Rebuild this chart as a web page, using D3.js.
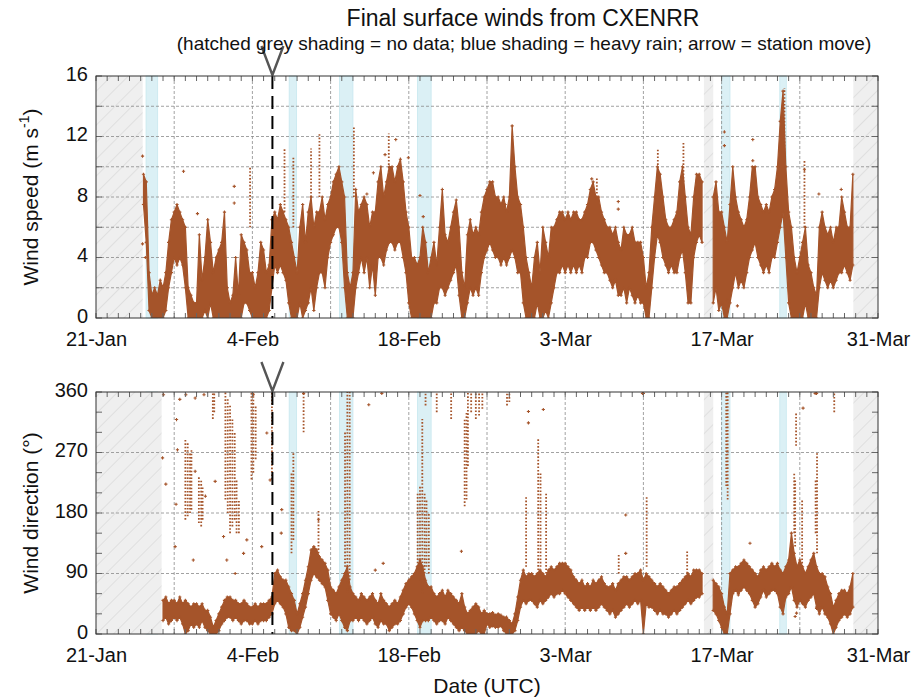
<!DOCTYPE html>
<html>
<head>
<meta charset="utf-8">
<script src="https://cdn.jsdelivr.net/npm/d3@7"></script>
<style>
  body { margin: 0; background: #fff; }
  text { font-family: "Liberation Sans", Arial, Helvetica, sans-serif; fill: #111; }
</style>
</head>
<body>
<svg id="chart" width="911" height="698"></svg>
<script>
// ---------------------------------------------------------------------------
// Station CXENRR surface winds, 6-hourly envelopes (low / high of all samples)
// ---------------------------------------------------------------------------
const speedStart = "2024-01-25T06:00Z";   // first 6-h step of the speed record
const dirStart   = "2024-01-27T00:00Z";   // first 6-h step of the direction record
const stepHours  = 6;

// wind speed (m/s), one value per 6 h; null = no data
const speedLow = [
  7.5,5,0.5,            // Jan 25
  0,0,0,0, 0,0.5,2,3, 4,3.5,4,3.5, 2,0,0,0, 0,0,0,0.5, 0,1,0,0, 0,0,0,0,
  0,0,0,0, 0,1,1,0.5, 0,0,0,0, 0,0,0.5,2, 3.5,3,3.5,3, 2.5,1,0,0, 0,1,0,0.5,
  1,2,0.5,2, 3,3,2,4, 5,5.5,6,6, 5,2,0,0, 0,2,3,4, 3,4,2,3.5, 1.5,4,4,3.5,
  4.5,5,5,4.5, 5,5,4,3, 1,0,0,0, 0,0,0,0, 0,1,1,2, 2,1.5,2,2.5, 3,3.5,1.5,0,
  0,1,2,1.5, 2,1.5,3,4, 4.5,5,4.5,4, 4,3.5,4,3.5, 4,4.5,4,3, 3,1,0,0,
  0,0,1,0, 0,0.5,0,1, 2,3,3,3.5, 3,3.5,3,3.5, 3,3.5,3,4, 4,5,5,4.5,
  4,3.5,3,3, 2.5,2,2.5,1.5, 1.5,2,1,2, 1.5,1,1.5,1, 1,0,0,2, 4,5.5,5,4,
  3.5,3,3.5,3, 3,4,4.5,3, 1,1,4,5, 5.5,5,null,null, null,1,2,0.5, 1,0,0,1,
  2,3,2,2.5, 2,3,4,4.5, 5,4,3.5,3, 3.5,3,4,4, 5,6,7,4, 1,0,0,0, 0,0,1,0,
  0,0,0,2, 3,2.5,2,2.5, 2,2.5,3,3, 3.5,3,2.5,3.5
];
const speedHigh = [
  9.5,9,3,
  1.5,2,1.5,2.5, 2,3,5,6.5, 7,7.5,7,6.5, 6,2,1.5,1, 1,5.5,2.5,4, 6.5,5,3,4, 4.5,5,7,2,
  1,1.5,4,1.5, 5.5,5,4.5,3, 3,2,3,5, 4.5,3,3.5,6.5, 7,6.5,7.5,7, 6.5,6,5,4, 3,6,7.5,5,
  7,8,6,7, 7,8,6.5,7.5, 8,9,9.5,10, 9,8,3,2, 3,8.5,7,7.5, 8,7.5,6,7, 7,9,10,8,
  9,10,10,9, 10,10.5,9,7, 6,4,4,3.5, 4,6,5,3, 4,5,3.5,6, 8.5,5.5,5,6, 7,7.8,6,3,
  2,5.5,6.5,5.5, 6,5.5,7,8, 8.5,9,9,8, 8,7.5,8,7, 8,12.7,10,8, 7.5,6,4,3,
  2,4,5,3, 6,5,4,6, 6,6.5,7,7, 6.5,7,6.5,7, 7,6.5,6.5,7, 7.5,8.5,9,8,
  8,7,6.5,6, 6,5.5,6,5, 4.5,6,5.5,5.5, 6,5,5,5, 4,2,3,6, 8,10,9.5,8,
  6.5,6,6,6.5, 7,9,10,8, 6,5.5,8,9.5, 9.5,9,null,null, null,8,9,7, 7,6,5,7.5,
  10,8,7,6.5, 6,6.5,8,10, 10,8,7.5,7, 7.5,7,8,8.5, 10,13,15,10, 7,6,4,3, 4,5,6,3.5,
  3,2,1.5,6, 7,6,5.5,6, 5,6,6,8, 7,6,6,9.5
];

// wind direction (degrees), one value per 6 h; null = no data
const dirLow = [
  20,25,15,20, 25,20,25,15, 0,5,15,10, 15,10,20,10, 5,0,0,0, 5,15,20,25,
  25,20,25,20, 15,20,20,15, 15,20,15,20, 20,20,25,30, 45,50,45,40, 30,10,5,5,
  0,10,25,40, 60,80,90,85, 80,75,70,50, 30,25,20,30, 20,10,5,20, 20,25,20,25,
  20,15,20,25, 15,10,20,15, 15,5,10,15, 15,20,30,40, 45,40,30,20, 10,20,20,20,
  25,20,15,20, 20,15,25,20, 15,10,5,10, 5,0,0,0, 0,5,0,0, 15,10,12,10,
  10,12,5,0, 0,0,5,20, 40,50,45,50, 50,45,40,50, 45,50,55,60, 55,60,60,65,
  60,55,50,45, 40,35,40,35, 40,35,40,35, 40,45,40,35, 30,35,25,30, 35,40,45,40,
  45,50,45,50, 0,45,40,40, 35,30,35,30, 30,25,30,35, 30,35,40,45, 50,45,50,55,
  55,60,null,null, null,35,30,20, 10,0,0,30, 60,65,60,65, 70,65,60,50, 40,45,55,65,
  55,60,65,65, 60,40,30,55, 60,70,50,40, 50,45,40,50, 55,60,40,30, 40,30,25,15,
  0,10,20,25, 30,25,30,40
];
const dirHigh = [
  50,55,45,50, 50,45,55,45, 50,45,40,45, 45,40,45,35, 35,25,10,20, 30,40,50,55,
  55,50,50,45, 45,50,45,40, 40,45,40,45, 45,45,50,55, 90,95,85,80, 80,70,60,50,
  30,45,60,80, 100,125,130,125, 115,110,105,95, 70,65,60,70, 80,90,100,70, 60,55,50,60,
  55,50,55,60, 50,45,60,50, 45,40,45,50, 45,55,65,75, 80,85,90,100, 110,100,80,70,
  70,60,55,60, 65,55,65,60, 55,50,45,60, 40,30,35,40, 45,40,30,35, 30,30,32,28,
  30,28,25,25, 20,15,30,55, 80,95,85,90, 90,85,90,95, 90,85,95,100, 95,100,105,105,
  105,100,95,85, 80,75,80,70, 75,70,80,75, 80,85,75,70, 70,75,65,75, 80,85,85,80,
  85,90,90,95, 80,90,85,80, 75,70,75,70, 65,60,65,70, 70,75,80,85, 90,85,95,95,
  95,90,null,null, null,80,75,70, 60,40,30,90, 95,100,100,105, 110,105,100,95, 90,85,95,100,
  95,100,105,100, 105,95,90,100, 110,150,120,100, 110,100,90,100, 110,120,100,90, 90,85,70,60,
  40,50,60,65, 65,60,70,90
];

// short bursts of scattered samples: [time, low, high]
const speedBursts = [
  ["2024-02-06T21:00Z",7,11.2], ["2024-02-03T19:00Z",6,10], ["2024-02-07T16:00Z",6,10.6],
  ["2024-02-09T06:00Z",8,11.2], ["2024-02-10T00:00Z",8,12.2], ["2024-02-13T02:00Z",8,12.6],
  ["2024-02-16T05:00Z",9,12.2], ["2024-03-11T07:00Z",9,11.2], ["2024-03-13T14:00Z",9,11.7],
  ["2024-03-22T15:00Z",10,15.2], ["2024-03-24T10:00Z",6,10.4], ["2024-03-05T20:00Z",8,9.3]
];
const dirBursts = [
  ["2024-01-29T00:00Z",170,290], ["2024-01-29T05:00Z",175,285], ["2024-01-29T10:00Z",180,270],
  ["2024-01-29T13:00Z",185,275], ["2024-01-30T05:00Z",165,235], ["2024-01-30T10:00Z",160,230],
  ["2024-01-30T13:00Z",170,220], ["2024-01-31T11:00Z",320,360], ["2024-01-31T14:00Z",330,360],
  ["2024-02-01T14:00Z",200,360], ["2024-02-01T19:00Z",180,350], ["2024-02-02T00:00Z",150,340],
  ["2024-02-02T05:00Z",160,320], ["2024-02-02T10:00Z",170,300], ["2024-02-02T14:00Z",150,230],
  ["2024-02-02T19:00Z",150,200], ["2024-02-03T22:00Z",230,360], ["2024-02-04T02:00Z",240,360],
  ["2024-02-04T07:00Z",260,340], ["2024-02-05T18:00Z",230,360], ["2024-02-07T12:00Z",120,240],
  ["2024-02-07T16:00Z",140,270], ["2024-02-08T14:00Z",300,360], ["2024-02-09T22:00Z",120,185],
  ["2024-02-12T07:00Z",100,300], ["2024-02-12T12:00Z",60,360], ["2024-02-12T17:00Z",80,360],
  ["2024-02-18T19:00Z",90,210], ["2024-02-19T00:00Z",80,220], ["2024-02-19T05:00Z",60,320],
  ["2024-02-19T10:00Z",90,210], ["2024-02-19T12:00Z",340,360], ["2024-02-19T14:00Z",100,200],
  ["2024-02-19T19:00Z",90,180], ["2024-02-20T12:00Z",330,360], ["2024-02-21T19:00Z",320,360],
  ["2024-02-23T00:00Z",190,320], ["2024-02-23T04:00Z",200,330], ["2024-02-23T07:00Z",250,360],
  ["2024-02-23T14:00Z",330,360], ["2024-02-24T00:00Z",320,360], ["2024-02-24T07:00Z",325,360],
  ["2024-02-24T14:00Z",335,360], ["2024-02-26T19:00Z",340,360], ["2024-02-27T00:00Z",345,360],
  ["2024-02-28T12:00Z",100,205], ["2024-02-29T14:00Z",90,290], ["2024-02-29T19:00Z",100,240],
  ["2024-03-01T07:00Z",90,210], ["2024-03-07T19:00Z",90,120], ["2024-03-10T07:00Z",100,205],
  ["2024-03-13T22:00Z",80,125], ["2024-03-17T10:00Z",220,360], ["2024-03-17T13:00Z",200,360],
  ["2024-03-23T12:00Z",150,240], ["2024-03-23T14:00Z",130,230], ["2024-03-23T16:00Z",280,330],
  ["2024-03-24T05:00Z",100,200], ["2024-03-25T10:00Z",150,230], ["2024-03-25T13:00Z",120,270],
  ["2024-03-27T02:00Z",330,360]
];

// isolated samples: [time, value]
const speedPoints = [
  ["2024-01-25T04:00Z",10.7], ["2024-01-25T04:00Z",4.9], ["2024-01-25T10:00Z",4.0],
  ["2024-01-28T20:00Z",9.7], ["2024-01-30T02:00Z",6.9], ["2024-02-02T09:00Z",8.7],
  ["2024-02-02T09:00Z",7.6], ["2024-02-14T06:00Z",8.2], ["2024-02-14T20:00Z",9.6],
  ["2024-02-15T21:00Z",10.8], ["2024-02-16T20:00Z",11.8], ["2024-02-17T23:00Z",10.6],
  ["2024-02-19T00:00Z",8.1], ["2024-02-19T07:00Z",6.7], ["2024-02-26T15:00Z",7.5],
  ["2024-03-05T09:00Z",9.2], ["2024-03-07T18:00Z",7.7], ["2024-03-07T18:00Z",7.2],
  ["2024-03-17T06:00Z",12.3], ["2024-03-17T06:00Z",11.4], ["2024-03-19T19:00Z",11.8],
  ["2024-03-19T19:00Z",10.4], ["2024-03-24T10:00Z",9.8], ["2024-03-25T17:00Z",8.2],
  ["2024-03-27T17:00Z",8.5], ["2024-03-17T12:00Z",1.2], ["2024-03-18T10:00Z",0.8]
];
const dirPoints = [
  ["2024-01-27T01:00Z",356], ["2024-01-26T23:00Z",262], ["2024-01-27T06:00Z",223],
  ["2024-01-28T05:00Z",319], ["2024-01-28T07:00Z",274], ["2024-01-28T04:00Z",193],
  ["2024-01-28T02:00Z",130], ["2024-01-28T12:00Z",349], ["2024-01-29T01:00Z",356],
  ["2024-01-29T21:00Z",351], ["2024-01-29T21:00Z",242], ["2024-01-29T17:00Z",110],
  ["2024-01-30T16:00Z",356], ["2024-01-30T19:00Z",205], ["2024-01-31T16:00Z",227],
  ["2024-02-01T10:00Z",145], ["2024-02-01T17:00Z",110], ["2024-02-02T11:00Z",90],
  ["2024-02-03T05:00Z",120], ["2024-02-03T12:00Z",140], ["2024-02-04T02:00Z",356],
  ["2024-02-04T20:00Z",130], ["2024-02-05T07:00Z",299], ["2024-02-05T14:00Z",229],
  ["2024-02-06T15:00Z",185], ["2024-02-06T14:00Z",150], ["2024-02-08T14:00Z",358],
  ["2024-02-09T22:00Z",170], ["2024-02-14T10:00Z",341], ["2024-02-15T00:00Z",95],
  ["2024-02-15T14:00Z",358], ["2024-02-15T17:00Z",105], ["2024-02-22T17:00Z",123],
  ["2024-02-28T17:00Z",331], ["2024-02-28T17:00Z",314], ["2024-03-01T01:00Z",334],
  ["2024-03-08T10:00Z",177], ["2024-03-08T10:00Z",120], ["2024-03-10T00:00Z",358],
  ["2024-03-09T22:00Z",358], ["2024-03-19T13:00Z",135], ["2024-03-24T07:00Z",336],
  ["2024-03-25T09:00Z",358], ["2024-03-25T12:00Z",358], ["2024-03-18T12:00Z",58],
  ["2024-03-23T14:00Z",26], ["2024-03-23T17:00Z",31], ["2024-03-25T12:00Z",38]
];

// periods without data, heavy rain, and the station relocation
const noDataSpeed = [["2024-01-21T00:00Z","2024-01-25T04:20Z"], ["2024-03-15T10:00Z","2024-03-16T06:00Z"], ["2024-03-28T19:00Z","2024-03-31T00:00Z"]];
const noDataDir   = [["2024-01-21T00:00Z","2024-01-26T21:00Z"], ["2024-03-15T10:00Z","2024-03-16T06:00Z"], ["2024-03-28T19:00Z","2024-03-31T00:00Z"]];
const heavyRain   = [["2024-01-25T11:30Z","2024-01-26T12:30Z"], ["2024-02-07T07:00Z","2024-02-07T23:00Z"],
                     ["2024-02-11T19:00Z","2024-02-13T00:00Z"], ["2024-02-18T18:30Z","2024-02-20T00:00Z"],
                     ["2024-03-17T00:00Z","2024-03-17T18:00Z"], ["2024-03-22T05:00Z","2024-03-22T19:00Z"]];
const stationMove = "2024-02-05T19:00Z";

// axis labels
const dateTicks   = ["2024-01-21","2024-02-04","2024-02-18","2024-03-03","2024-03-17","2024-03-31"];
const dateFormat  = d3.utcFormat("%-d-%b");
const speedTicks  = [0, 4, 8, 12, 16];
const dirTicks    = [0, 90, 180, 270, 360];

// ---------------------------------------------------------------------------
const COLOR = "#a5542a";
const svg = d3.select("#chart");
const defs = svg.append("defs");

const hatch = defs.append("pattern").attr("id", "hatch")
  .attr("patternUnits", "userSpaceOnUse").attr("width", 12).attr("height", 12)
  .attr("patternTransform", "rotate(45)");
hatch.append("rect").attr("width", 12).attr("height", 12).attr("fill", "#efefef");
hatch.append("line").attr("x1", 0).attr("y1", 0).attr("x2", 0).attr("y2", 12)
  .attr("stroke", "#d8d8d8").attr("stroke-width", 1.4);

const tMin = new Date("2024-01-21T00:00Z"), tMax = new Date("2024-03-31T00:00Z");
const x = d3.scaleUtc().domain([tMin, tMax]).range([96, 878]);

function series(start, lo, hi) {
  const t0 = +new Date(start), dt = stepHours * 3600e3;
  return lo.map((v, i) => ({ t: new Date(t0 + i * dt), lo: v, hi: hi[i] }));
}

const panels = [
  { id: "spd", top: 76, bottom: 318, domain: [0, 16], tickLabels: speedTicks,
    grid: d3.range(2, 16, 2), minor: d3.range(0, 17, 2),
    data: series(speedStart, speedLow, speedHigh), bursts: speedBursts, points: speedPoints,
    noData: noDataSpeed },
  { id: "dir", top: 392, bottom: 634, domain: [0, 360], tickLabels: dirTicks,
    grid: [90, 180, 270], minor: d3.range(0, 361, 30),
    data: series(dirStart, dirLow, dirHigh), bursts: dirBursts, points: dirPoints,
    noData: noDataDir }
];

const days  = d3.utcDay.range(tMin, d3.utcDay.offset(tMax, 1));
const weeks = d3.utcDay.range(tMin, tMax, 7).slice(1);

panels.forEach(p => {
  const y = d3.scaleLinear().domain(p.domain).range([p.bottom, p.top]);
  const g = svg.append("g");
  const h = p.bottom - p.top;

  defs.append("clipPath").attr("id", "clip-" + p.id)
    .append("rect").attr("x", x.range()[0]).attr("y", p.top)
    .attr("width", x.range()[1] - x.range()[0]).attr("height", h);

  // heavy rain
  g.append("g").selectAll("rect").data(heavyRain).join("rect")
    .attr("x", d => x(new Date(d[0]))).attr("y", p.top)
    .attr("width", d => x(new Date(d[1])) - x(new Date(d[0]))).attr("height", h)
    .attr("fill", "#dbf0f5").attr("stroke", "#c8e8ef").attr("stroke-width", 0.8);

  // no data
  g.append("g").selectAll("rect").data(p.noData).join("rect")
    .attr("x", d => x(new Date(d[0]))).attr("y", p.top)
    .attr("width", d => x(new Date(d[1])) - x(new Date(d[0]))).attr("height", h)
    .attr("fill", "url(#hatch)");

  // grid
  const grid = g.append("g").attr("stroke", "#8a8a8a").attr("stroke-width", 0.8)
    .attr("stroke-dasharray", "3,2");
  grid.selectAll("line.h").data(p.grid).join("line").attr("class", "h")
    .attr("x1", x.range()[0]).attr("x2", x.range()[1])
    .attr("y1", d => y(d)).attr("y2", d => y(d));
  grid.selectAll("line.v").data(weeks).join("line").attr("class", "v")
    .attr("x1", d => x(d)).attr("x2", d => x(d))
    .attr("y1", p.top).attr("y2", p.bottom);

  // observations
  const dg = g.append("g").attr("clip-path", `url(#clip-${p.id})`);
  const area = d3.area().defined(d => d.lo != null)
    .x(d => x(d.t)).y0(d => y(d.lo)).y1(d => y(d.hi));
  dg.append("path").datum(p.data).attr("d", area)
    .attr("fill", COLOR).attr("stroke", COLOR).attr("stroke-width", 1.2)
    .attr("stroke-linejoin", "round");

  dg.append("g").selectAll("line").data(p.bursts).join("line")
    .attr("x1", d => x(new Date(d[0]))).attr("x2", d => x(new Date(d[0])))
    .attr("y1", d => y(d[1])).attr("y2", d => y(d[2]))
    .attr("stroke", COLOR).attr("stroke-width", 1.8).attr("stroke-dasharray", "1.6,1.8");

  const plus = "M-1.6,0H1.6M0,-1.6V1.6";
  const edge = p.data.filter(d => d.lo != null)
    .flatMap(d => [[d.t, d.lo], [d.t, d.hi]]);
  dg.append("g").selectAll("path").data(edge.concat(p.points.map(d => [new Date(d[0]), d[1]])))
    .join("path")
    .attr("transform", d => `translate(${x(d[0])},${y(d[1])})`)
    .attr("d", plus).attr("stroke", COLOR).attr("stroke-width", 1.1);

  // station move
  const xm = x(new Date(stationMove));
  g.append("line").attr("x1", xm).attr("x2", xm).attr("y1", p.top).attr("y2", p.bottom)
    .attr("stroke", "#000").attr("stroke-width", 2).attr("stroke-dasharray", "13,7");
  g.append("path")
    .attr("d", `M${xm - 11},${p.top - 30}L${xm},${p.top - 1}L${xm + 11},${p.top - 30}`)
    .attr("fill", "none").attr("stroke", "#555").attr("stroke-width", 2.4)
    .attr("stroke-linejoin", "round");

  // ticks (inside the frame, all four sides)
  const tk = g.append("g").attr("stroke", "#666").attr("stroke-width", 1);
  tk.selectAll("line.xb").data(days).join("line").attr("class", "xb")
    .attr("x1", d => x(d)).attr("x2", d => x(d)).attr("y1", p.bottom).attr("y2", p.bottom - 5);
  tk.selectAll("line.xt").data(days).join("line").attr("class", "xt")
    .attr("x1", d => x(d)).attr("x2", d => x(d)).attr("y1", p.top).attr("y2", p.top + 5);
  tk.selectAll("line.yl").data(p.minor).join("line").attr("class", "yl")
    .attr("x1", x.range()[0]).attr("x2", x.range()[0] + 6).attr("y1", d => y(d)).attr("y2", d => y(d));
  tk.selectAll("line.yr").data(p.minor).join("line").attr("class", "yr")
    .attr("x1", x.range()[1]).attr("x2", x.range()[1] - 6).attr("y1", d => y(d)).attr("y2", d => y(d));

  // frame
  g.append("rect").attr("x", x.range()[0]).attr("y", p.top)
    .attr("width", x.range()[1] - x.range()[0]).attr("height", h)
    .attr("fill", "none").attr("stroke", "#333").attr("stroke-width", 1);

  // axes labels
  const ay = g.append("g").attr("transform", `translate(${x.range()[0]},0)`)
    .call(d3.axisLeft(y).tickValues(p.tickLabels).tickSize(0).tickPadding(8));
  ay.select(".domain").remove();
  ay.selectAll("text").attr("font-size", 20).attr("font-family", null).attr("dy", "0.2em");

  const ax = g.append("g").attr("transform", `translate(0,${p.bottom})`)
    .call(d3.axisBottom(x).tickValues(dateTicks.map(d => new Date(d + "T00:00Z")))
      .tickFormat(dateFormat).tickSize(0).tickPadding(14));
  ax.select(".domain").remove();
  ax.selectAll("text").attr("font-size", 20).attr("font-family", null);
});

// titles
svg.append("text").attr("x", 523).attr("y", 26).attr("text-anchor", "middle")
  .attr("font-size", 23).text("Final surface winds from CXENRR");
svg.append("text").attr("x", 524).attr("y", 50).attr("text-anchor", "middle")
  .attr("font-size", 19)
  .text("(hatched grey shading = no data; blue shading = heavy rain; arrow = station move)");

const ySpeedTitle = svg.append("text").attr("text-anchor", "middle")
  .attr("transform", "translate(38,197) rotate(-90)").attr("font-size", 21);
ySpeedTitle.append("tspan").text("Wind speed (m s");
ySpeedTitle.append("tspan").attr("font-size", 14).attr("dy", -9).text("-1");
ySpeedTitle.append("tspan").attr("dy", 9).text(")");

svg.append("text").attr("text-anchor", "middle")
  .attr("transform", "translate(38,513) rotate(-90)").attr("font-size", 21)
  .text("Wind direction (°)");

svg.append("text").attr("x", 487).attr("y", 693).attr("text-anchor", "middle")
  .attr("font-size", 21).text("Date (UTC)");
</script>
</body>
</html>
